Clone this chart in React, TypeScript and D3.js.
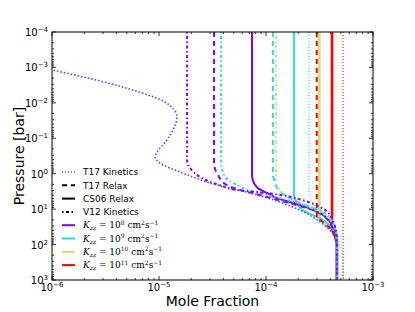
import * as d3 from "d3";

// axis ticks
const xTicks = [1e-6, 1e-5, 1e-4, 1e-3];
const xTickExp = ["\u22126", "\u22125", "\u22124", "\u22123"];
const yTicks = [1e-4, 1e-3, 1e-2, 1e-1, 1e0, 1e1, 1e2, 1e3];
const yTickExp = ["\u22124", "\u22123", "\u22122", "\u22121", "0", "1", "2", "3"];

// legend entries
const modelNames = ["T17 Kinetics", "T17 Relax", "CS06 Relax", "V12 Kinetics"];
const kzzExps = ["8", "9", "10", "11"];
const kzzColors = ["#8000ff", "#2adddd", "#d4dd80", "#ff0000"];

// profiles: [mole fraction, pressure in bar]
type Pt = [number, number];
const k8Kin: Pt[] = [[4e-7, 6e-4], [1e-6, 1.17e-3], [2.8e-6, 2.4e-3], [6.6e-6, 5e-3], [1.14e-5, 9.5e-3], [1.47e-5, 0.025], [1.35e-5, 0.059], [1.14e-5, 0.13], [9.6e-6, 0.245], [9.2e-6, 0.34], [1.02e-5, 0.5], [1.67e-5, 0.96], [3.5e-5, 2.1], [7.1e-5, 3.5], [1.35e-4, 6.3], [2.08e-4, 10.7], [3.2e-4, 23], [4.2e-4, 48], [4.6e-4, 92], [4.6e-4, 1000]];
const k8V12: Pt[] = [[1.83e-5, 1e-4], [1.83e-5, 0.41], [2.02e-5, 0.79], [2.4e-5, 1.22], [3.0e-5, 1.7], [3.7e-5, 2.1], [5.4e-5, 2.9], [1.09e-4, 3.6], [2.2e-4, 5.6], [3.2e-4, 8.7], [4.2e-4, 20], [4.6e-4, 75], [4.6e-4, 1000]];
const k8Relax: Pt[] = [[3.27e-5, 1e-4], [3.27e-5, 0.5], [3.56e-5, 1.1], [4.3e-5, 2.1], [5.4e-5, 2.7], [8.8e-5, 4], [1.67e-4, 6.8], [3.2e-4, 13], [4.2e-4, 34], [4.6e-4, 92], [4.6e-4, 1000]];
const k8CS06: Pt[] = [[7.4e-5, 1e-4], [7.4e-5, 1.1], [8.2e-5, 2.4], [1.02e-4, 3.5], [1.27e-4, 4.9], [2.1e-4, 7.7], [3.2e-4, 13], [4.2e-4, 30], [4.6e-4, 75], [4.6e-4, 1000]];
const k9V12: Pt[] = [[3.8e-5, 1e-4], [3.8e-5, 0.47], [3.96e-5, 0.9], [4.4e-5, 1.5], [5.4e-5, 2.1], [7.1e-5, 3.0], [1.1e-4, 4.2], [2.3e-4, 7.7], [3.56e-4, 13], [4.3e-4, 28], [4.6e-4, 75], [4.6e-4, 1000]];
const k9Relax: Pt[] = [[1.16e-4, 1e-4], [1.16e-4, 1.1], [1.21e-4, 1.7], [1.27e-4, 2.55], [1.5e-4, 4], [2.1e-4, 6.8], [3.06e-4, 10.7], [3.96e-4, 20], [4.5e-4, 45], [4.6e-4, 100], [4.6e-4, 1000]];
const k9CS06: Pt[] = [[1.83e-4, 1e-4], [1.83e-4, 4], [1.95e-4, 6.8], [2.2e-4, 10.7], [2.75e-4, 14.8], [3.4e-4, 20], [4.14e-4, 34], [4.6e-4, 75], [4.6e-4, 1000]];
const k9Kin: Pt[] = [[2.52e-4, 1e-4], [2.52e-4, 2.9], [2.75e-4, 6.8], [3.4e-4, 13], [4.14e-4, 25], [4.7e-4, 75], [5.1e-4, 175], [5.25e-4, 525], [5.25e-4, 1000]];
const k10V12: Pt[] = [[1.24e-4, 1e-4], [1.24e-4, 1.5], [1.35e-4, 2.9], [1.67e-4, 4.9], [2.3e-4, 7.7], [3.2e-4, 12], [4.14e-4, 23], [4.6e-4, 66], [4.6e-4, 1000]];
const k10CS06: Pt[] = [[3.15e-4, 1e-4], [3.15e-4, 15], [3.4e-4, 23], [3.96e-4, 37], [4.4e-4, 57], [4.6e-4, 100], [4.6e-4, 1000]];
const k10Kin: Pt[] = [[4.5e-4, 1e-4], [4.5e-4, 28], [4.9e-4, 75], [5.25e-4, 200], [5.25e-4, 1000]];
const k11Relax: Pt[] = [[2.98e-4, 1e-4], [2.98e-4, 17], [3.33e-4, 22], [3.96e-4, 34], [4.4e-4, 50], [4.6e-4, 100], [4.6e-4, 1000]];
const k11CS06: Pt[] = [[4.14e-4, 1e-4], [4.14e-4, 34], [4.4e-4, 57], [4.6e-4, 100], [4.6e-4, 1000]];
const k11Kin: Pt[] = [[5.25e-4, 1e-4], [5.25e-4, 1000]];

const WIDTH = 415;
const HEIGHT = 312;
const MARGIN = { TOP: 32, BOTTOM: 32, LEFT: 52, RIGHT: 42 };

const STYLES: Record<string, { w: number; dash?: string; op?: number }> = {
  kin: { w: 1.3, dash: "1,2", op: 0.85 },
  kinBlue: { w: 1.6, dash: "1.5,2" },
  relax: { w: 2, dash: "5,4" },
  cs06: { w: 2 },
  cs06wide: { w: 2.6 },
  v12: { w: 2, dash: "1.5,2.5,3,2.5" },
};

const series: { data: Pt[]; color: string; style: string }[] = [
  { data: k11Kin, color: kzzColors[3], style: "kin" },
  { data: k10Kin, color: kzzColors[2], style: "kin" },
  { data: k9Kin, color: kzzColors[1], style: "kin" },
  { data: k10CS06, color: kzzColors[2], style: "cs06wide" },
  { data: k11CS06, color: kzzColors[3], style: "cs06wide" },
  { data: k9CS06, color: kzzColors[1], style: "cs06" },
  { data: k8CS06, color: kzzColors[0], style: "cs06" },
  { data: k11Relax, color: kzzColors[3], style: "relax" },
  { data: k9Relax, color: kzzColors[1], style: "relax" },
  { data: k8Relax, color: kzzColors[0], style: "relax" },
  { data: k10V12, color: kzzColors[2], style: "v12" },
  { data: k9V12, color: kzzColors[1], style: "v12" },
  { data: k8V12, color: kzzColors[0], style: "v12" },
  { data: k8Kin, color: "#4646ff", style: "kinBlue" },
];

export default function App() {
  const x = d3.scaleLog().domain([1e-6, 1e-3]).range([MARGIN.LEFT, WIDTH - MARGIN.RIGHT]);
  const y = d3.scaleLog().domain([1e-4, 1e3]).range([MARGIN.TOP, HEIGHT - MARGIN.BOTTOM]);
  const [x0, x1] = x.range();
  const [y0, y1] = y.range();

  const line = d3
    .line<Pt>()
    .x((d) => x(d[0]))
    .y((d) => y(d[1]))
    .curve(d3.curveMonotoneY);

  const isMajor = (v: number) => Math.abs(Math.log10(v) - Math.round(Math.log10(v))) < 1e-9;
  const xMinor = x.ticks().filter((v) => !isMajor(v));
  const yMinor = y.ticks().filter((v) => !isMajor(v));

  const font = "'DejaVu Sans', sans-serif";
  const legX = 62;
  const legTextX = 83;
  const legY0 = 172;
  const legStep = 13.3;
  const legendStyles = ["kin", "relax", "cs06", "v12"];

  return (
    <svg width={WIDTH} height={HEIGHT} style={{ position: "absolute", left: 0, top: 0 }} fontFamily={font}>
      <rect width={WIDTH} height={HEIGHT} fill="#fff" />
      <defs>
        <clipPath id="plot">
          <rect x={x0} y={y0} width={x1 - x0} height={y1 - y0} />
        </clipPath>
      </defs>

      <g clipPath="url(#plot)" fill="none">
        {series.map((s, i) => {
          const st = STYLES[s.style];
          return (
            <path
              key={i}
              d={line(s.data) || ""}
              stroke={s.color}
              strokeWidth={st.w}
              strokeDasharray={st.dash}
              strokeOpacity={st.op ?? 1}
            />
          );
        })}
      </g>

      {/* ticks, inward on all four sides */}
      <g stroke="#000" strokeWidth={0.8}>
        {xTicks.map((t, i) => (
          <g key={"xt" + i}>
            <line x1={x(t)} x2={x(t)} y1={y1} y2={y1 - 4} />
            <line x1={x(t)} x2={x(t)} y1={y0} y2={y0 + 4} />
          </g>
        ))}
        {xMinor.map((t, i) => (
          <g key={"xm" + i}>
            <line x1={x(t)} x2={x(t)} y1={y1} y2={y1 - 2} />
            <line x1={x(t)} x2={x(t)} y1={y0} y2={y0 + 2} />
          </g>
        ))}
        {yTicks.map((t, i) => (
          <g key={"yt" + i}>
            <line x1={x0} x2={x0 + 4} y1={y(t)} y2={y(t)} />
            <line x1={x1} x2={x1 - 4} y1={y(t)} y2={y(t)} />
          </g>
        ))}
        {yMinor.map((t, i) => (
          <g key={"ym" + i}>
            <line x1={x0} x2={x0 + 2} y1={y(t)} y2={y(t)} />
            <line x1={x1} x2={x1 - 2} y1={y(t)} y2={y(t)} />
          </g>
        ))}
      </g>
      <rect x={x0} y={y0} width={x1 - x0} height={y1 - y0} fill="none" stroke="#000" strokeWidth={1} />

      {/* tick labels */}
      <g fontSize={10} fill="#000">
        {xTicks.map((t, i) => (
          <text key={"xl" + i} x={x(t)} y={y1 + 11} textAnchor="middle">
            10<tspan fontSize={7} dy={-4}>{xTickExp[i]}</tspan>
          </text>
        ))}
        {yTicks.map((t, i) => (
          <text key={"yl" + i} x={x0 - 4} y={y(t) + 4} textAnchor="end">
            10<tspan fontSize={7} dy={-4}>{yTickExp[i]}</tspan>
          </text>
        ))}
      </g>

      {/* axis titles */}
      <text x={(x0 + x1) / 2} y={306} textAnchor="middle" fontSize={14}>
        Mole Fraction
      </text>
      <text transform={`translate(24, ${(y0 + y1) / 2}) rotate(-90)`} textAnchor="middle" fontSize={14}>
        Pressure [bar]
      </text>

      {/* legend */}
      <g>
        {modelNames.map((name, i) => {
          const st = STYLES[legendStyles[i]];
          const ly = legY0 + i * legStep;
          return (
            <g key={"lm" + i}>
              <line x1={legX} x2={legX + 13} y1={ly} y2={ly} stroke="#000" strokeWidth={i === 0 ? 1 : st.w} strokeDasharray={st.dash} />
              <text x={legTextX} y={ly + 3.2} fontSize={9}>
                {name}
              </text>
            </g>
          );
        })}
        {kzzExps.map((e, i) => {
          const ly = legY0 + (i + 4) * legStep;
          return (
            <g key={"lk" + i}>
              <line x1={legX} x2={legX + 13} y1={ly} y2={ly} stroke={kzzColors[i]} strokeWidth={2} />
              <text x={legTextX} y={ly + 3} fontSize={9} fontFamily="'DejaVu Serif', serif">
                <tspan fontStyle="italic">K</tspan>
                <tspan fontStyle="italic" fontSize={6} dy={2}>zz</tspan>
                <tspan dy={-2}> = 10</tspan>
                <tspan fontSize={6} dy={-3.5}>{e}</tspan>
                <tspan dy={3.5}> cm</tspan>
                <tspan fontSize={6} dy={-3.5}>2</tspan>
                <tspan dy={3.5}>s</tspan>
                <tspan fontSize={6} dy={-3.5}>{"\u22121"}</tspan>
              </text>
            </g>
          );
        })}
      </g>
    </svg>
  );
}
